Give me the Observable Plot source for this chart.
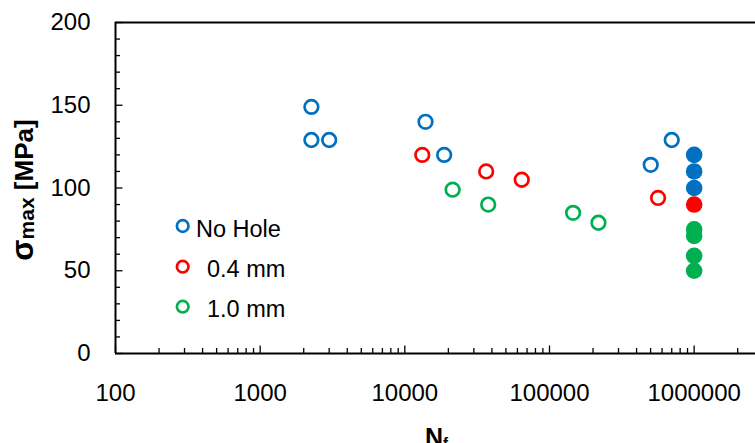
<!DOCTYPE html>
<html><head><meta charset="utf-8">
<script src="https://cdn.jsdelivr.net/npm/d3@7"></script>
<script src="https://cdn.jsdelivr.net/npm/@observablehq/plot@0.6"></script>
<style>
html,body{margin:0;padding:0;background:#fff;overflow:hidden;}
#chart{position:relative;width:755px;height:443px;}
</style></head><body><div id="chart"></div>
<script>
// Series
const seriesNames = ["No Hole", "0.4 mm", "1.0 mm"];
const seriesColors = ["#0070C0", "#FF0000", "#00B050"];
// Failures (open markers): cycles to failure, max stress [MPa]
const noHoleN = [2260, 2260, 3000, 13900, 18700, 501000, 700000];
const noHoleS = [149, 129, 129, 140, 120, 114, 129];
const hole04N = [13200, 36500, 64300, 563000];
const hole04S = [120, 110, 105, 94];
const hole10N = [21400, 37700, 145600, 218000];
const hole10S = [99, 90, 85, 79];
// Run-outs at 1e6 cycles (filled markers)
const runoutN = 1000000;
const noHoleRunS = [120, 110, 100];
const hole04RunS = [90];
const hole10RunS = [75, 71, 59, 50];
// Axis ticks
const xTicks = [100, 1000, 10000, 100000, 1000000];
const yTicks = [0, 50, 100, 150, 200];

const W = 755, H = 443, mL = 115, mR = 0, mT = 22, mB = 90;
const plotW = W - mL - mR, plotH = H - mT - mB;
const xMax = 2655000;
const FONT = "Arial, 'Liberation Sans', sans-serif";

const open = [];
[[noHoleN, noHoleS], [hole04N, hole04S], [hole10N, hole10S]].forEach(([ns, ss], i) =>
  ns.forEach((n, j) => open.push({n, s: ss[j], series: seriesNames[i]})));
const filled = [];
[noHoleRunS, hole04RunS, hole10RunS].forEach((ss, i) =>
  ss.forEach(s => filled.push({n: runoutN, s, series: seriesNames[i]})));

const xMinor = [];
for (const d of xTicks) for (let k = 2; k <= 9; k++) if (d * k <= xMax) xMinor.push(d * k);
const yMinor = d3.range(0, 201, 10).filter(v => v % 50 !== 0);

const svgEl = Plot.plot({
  width: W, height: H, marginLeft: mL, marginRight: mR, marginTop: mT, marginBottom: mB,
  x: {type: "log", domain: [100, xMax]},
  y: {domain: [0, 200]},
  color: {domain: seriesNames, range: seriesColors},
  style: {fontFamily: FONT, fontSize: "24px", background: "white", color: "black"},
  marks: [
    Plot.ruleY([200], {stroke: "black", strokeWidth: 2}),
    Plot.tickX(xMinor, {x: d => d, stroke: "black", strokeWidth: 1.3, insetTop: plotH - 5}),
    Plot.tickX(xTicks, {x: d => d, stroke: "black", strokeWidth: 1.3, insetTop: plotH - 7.5}),
    Plot.tickY(yMinor, {y: d => d, stroke: "black", strokeWidth: 1.3, insetRight: plotW - 5}),
    Plot.tickY(yTicks, {y: d => d, stroke: "black", strokeWidth: 1.3, insetRight: plotW - 7.5}),
    Plot.axisX({ticks: xTicks, tickSize: 0, tickPadding: 30, tickFormat: d => String(d), label: null}),
    Plot.axisY({ticks: yTicks, tickSize: 0, tickPadding: 25, label: null}),
    Plot.ruleX([100], {stroke: "black", strokeWidth: 2}),
    Plot.ruleY([0], {stroke: "black", strokeWidth: 2}),
    Plot.dot(open, {x: "n", y: "s", r: 6.8, stroke: "series", strokeWidth: 2.7, fill: "none"}),
    Plot.dot(filled, {x: "n", y: "s", r: 8.3, fill: "series", stroke: "none"})
  ]
});
document.getElementById("chart").appendChild(svgEl);
const svg = d3.select(svgEl);

// Y title
const yl = svg.append("text")
  .attr("transform", "translate(33,190) rotate(-90)")
  .attr("text-anchor", "middle")
  .attr("font-weight", "bold")
  .attr("font-size", 26)
  .attr("font-family", FONT)
  .attr("fill", "black");
yl.append("tspan").attr("font-size", 31).text("σ");
yl.append("tspan").attr("font-size", 21).attr("dy", 1).text("max");
yl.append("tspan").attr("dy", -1).text(" [MPa]");

// X title
const xl = svg.append("text")
  .attr("x", 425).attr("y", 446)
  .attr("text-anchor", "start")
  .attr("font-weight", "bold").attr("font-size", 25)
  .attr("font-family", FONT)
  .attr("fill", "black");
xl.append("tspan").text("N");
xl.append("tspan").attr("font-size", 15).attr("dy", 2).text("f");

// Legend
const legY = [226, 266.7, 306.7];
const legTX = [196, 207, 207];
seriesNames.forEach((name, i) => {
  svg.append("circle").attr("cx", 182.7).attr("cy", legY[i]).attr("r", 5.8)
    .attr("fill", "none").attr("stroke", seriesColors[i]).attr("stroke-width", 2.7);
  svg.append("text").attr("x", legTX[i]).attr("y", legY[i] + 10.5)
    .attr("text-anchor", "start")
    .attr("font-size", 23.5).attr("font-family", FONT)
    .attr("fill", "black").text(name);
});
</script></body></html>
